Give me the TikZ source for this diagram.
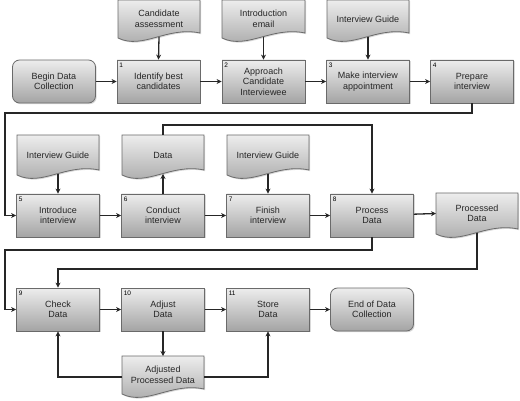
\documentclass[tikz,border=0pt]{standalone}
\usepackage{fontspec}
\setmainfont{Liberation Sans}
\usetikzlibrary{arrows.meta,shadows,calc}
\definecolor{edge}{HTML}{6A6A6A}
\definecolor{topc}{HTML}{EDEDED}
\definecolor{botc}{HTML}{A4A4A4}
\tikzset{
  shade/.style={top color=topc, bottom color=botc, draw=edge, line width=0.8pt,
    drop shadow={shadow xshift=1.2pt, shadow yshift=-1.2pt, opacity=0.3}},
  box/.style={shade, rectangle, minimum width=83pt, minimum height=43pt, align=center,
    inner sep=1pt, font=\fontsize{9}{10.5}\selectfont, text=black!85},
  term/.style={box, rounded corners=7pt},
  doctext/.style={align=center, inner sep=0pt, font=\fontsize{9}{10.5}\selectfont, text=black!85},
  numlab/.style={anchor=north west, inner sep=0pt, font=\fontsize{6.5}{7}\selectfont},
  arr/.style={line width=1.3pt, black!85, -{Stealth[length=5pt,width=5pt]}},
  conn/.style={line width=1.3pt, black!85},
}
\newcommand\docshape[6]{%
  \path[shade] (#2,#4) -- (#3,#4) -- (#3,{#5-5})
    .. controls ({#2+0.6*(#3-#2)},{#5-12}) and ({#2+0.3*(#3-#2)},{#5+12}) .. (#2,#5) -- cycle;
  \node[doctext] (#1) at ({(#2+#3)/2},{(#4+#5)/2}) {#6};
  \coordinate (#1-b) at ({(#2+#3)/2},{#5-1});
  \coordinate (#1-t) at ({(#2+#3)/2},#4);
  \coordinate (#1-l) at (#2,{(#4+#5)/2+2});
  \coordinate (#1-r) at (#3,{(#4+#5)/2+2});
}
\newcommand\numb[2]{\node[numlab] at ($(#1.north west)+(2.5,3)$) {#2};}
\begin{document}
\begin{tikzpicture}[x=1pt,y=-1pt]
\useasboundingbox (0,0) rectangle (520,401);
% documents
\docshape{d1}{118}{200}{0}{38}{Candidate\\assessment}
\docshape{d2}{222}{305}{0}{38}{Introduction\\email}
\docshape{d3}{327}{409}{0}{38}{Interview Guide}
\docshape{g5}{17}{99}{135}{175}{Interview Guide}
\docshape{dd}{122}{204}{135}{175}{Data}
\docshape{g7}{227}{309}{135}{175}{Interview Guide}
\docshape{pd}{436}{518}{193}{234}{Processed\\Data}
\docshape{apd}{122}{204}{356}{394}{Adjusted\\Processed Data}
% row 1
\node[term] (begin) at (54,81.5) {Begin Data\\Collection};
\node[box] (b1) at (158.5,81.5) {Identify best\\candidates};
\node[box] (b2) at (263.5,81.5) {Approach\\Candidate\\Interviewee};
\node[box] (b3) at (368,81.5) {Make interview\\appointment};
\node[box] (b4) at (472,81.5) {Prepare\\interview};
% row 2
\node[box] (b5) at (58,215.5) {Introduce\\interview};
\node[box] (b6) at (163,215.5) {Conduct\\interview};
\node[box] (b7) at (268,215.5) {Finish\\interview};
\node[box] (b8) at (372,215.5) {Process\\Data};
% row 3
\node[box] (b9) at (58,309.5) {Check\\Data};
\node[box] (b10) at (163,309.5) {Adjust\\Data};
\node[box] (b11) at (268,309.5) {Store\\Data};
\node[term] (end) at (372,309.5) {End of Data\\Collection};
% numbers
\numb{b1}{1}\numb{b2}{2}\numb{b3}{3}\numb{b4}{4}
\numb{b5}{5}\numb{b6}{6}\numb{b7}{7}\numb{b8}{8}
\numb{b9}{9}\numb{b10}{10}\numb{b11}{11}
% connectors row 1
\draw[arr] (begin) -- (b1);
\draw[arr] (b1) -- (b2);
\draw[arr] (b2) -- (b3);
\draw[arr] (b3) -- (b4);
\draw[arr] (d1-b) -- (b1.north);
\draw[arr] (d2-b) -- (b2.north);
\draw[arr] (d3-b) -- (b3.north);
\coordinate (c1) at (5,113);
\draw[arr] (b4.south) |- (c1) |- (b5.west);
% row 2
\draw[arr] (b5) -- (b6);
\draw[arr] (b6) -- (b7);
\draw[arr] (b7) -- (b8);
\draw[arr] (b8) -- (pd.west -| 436,0);
\draw[arr] (g5-b) -- (b5.north);
\draw[arr] (g7-b) -- (b7.north);
\draw[arr] (b6.north) -- (dd-b);
\coordinate (c2) at (0,125);
\draw[arr] (dd-t) |- (c2 -| b8.north) -- (b8.north);
\coordinate (c3) at (0,269);
\draw[arr] (pd-b) |- (c3 -| b9.north) -- (b9.north);
\coordinate (c4) at (5,250);
\draw[arr] (b8.south) |- (c4) |- (b9.west);
% row 3
\draw[arr] (b9) -- (b10);
\draw[arr] (b10) -- (b11);
\draw[arr] (b11) -- (end);
\draw[arr] (b10.south) -- (apd-t);
\draw[arr] (apd-l) -| (b9.south);
\draw[arr] (apd-r) -| (b11.south);
\end{tikzpicture}
\end{document}
